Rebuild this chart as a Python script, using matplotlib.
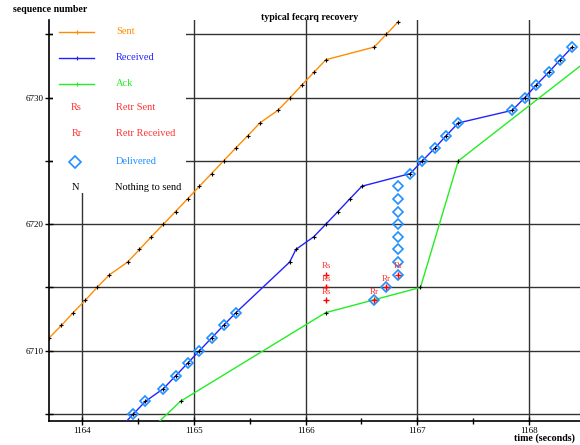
import matplotlib
matplotlib.use('Agg')
import matplotlib.pyplot as plt
from matplotlib.patches import Rectangle

plt.rcParams['font.family'] = ['Liberation Serif', 'DejaVu Serif']

# segments sent (seq 6710 .. 6736)
sent_seq = list(range(6710, 6737))
sent_t = [1163.59, 1163.700, 1163.812, 1163.916, 1164.027, 1164.131, 1164.242,
          1164.404, 1164.511, 1164.617, 1164.726, 1164.834, 1164.942, 1165.049,
          1165.157, 1165.265, 1165.372, 1165.483, 1165.590, 1165.752, 1165.862,
          1165.967, 1166.074, 1166.182, 1166.615, 1166.723, 1166.830]

# segments received (6714-6716 were lost)
recv_seq = [6704, 6705, 6706, 6707, 6708, 6709, 6710, 6711, 6712, 6713,
            6717, 6718, 6719, 6720, 6721, 6722, 6723, 6724, 6725, 6726,
            6727, 6728, 6729, 6730, 6731, 6732, 6733, 6734]
recv_t = [1164.35, 1164.457, 1164.565, 1164.726, 1164.834, 1164.942, 1165.049,
          1165.157, 1165.265, 1165.375, 1165.857, 1165.913, 1166.073, 1166.182,
          1166.290, 1166.397, 1166.505, 1166.938, 1167.046, 1167.157, 1167.261,
          1167.369, 1167.853, 1167.964, 1168.068, 1168.179, 1168.283, 1168.391]

# acks
ack_seq = [6704, 6706, 6713, 6715, 6725, 6733]
ack_t = [1164.64, 1164.879, 1166.179, 1167.03, 1167.369, 1168.534]

# retransmissions
rs_seq = [6714, 6715, 6716]
rs_t = [1166.185, 1166.185, 1166.185]
rr_seq = [6714, 6715, 6716]
rr_t = [1166.613, 1166.720, 1166.828]

# delivered to the application
dlv_seq = [6705, 6706, 6707, 6708, 6709, 6710, 6711, 6712, 6713,
           6714, 6715, 6716, 6717, 6718, 6719, 6720, 6721, 6722, 6723,
           6724, 6725, 6726, 6727, 6728, 6729, 6730, 6731, 6732, 6733, 6734]
dlv_t = [1164.457, 1164.565, 1164.726, 1164.834, 1164.942, 1165.049, 1165.157,
         1165.265, 1165.375,
         1166.613, 1166.720, 1166.828, 1166.828, 1166.828, 1166.828, 1166.828,
         1166.828, 1166.828, 1166.828,
         1166.938, 1167.046, 1167.157, 1167.261, 1167.369, 1167.853, 1167.964,
         1168.068, 1168.179, 1168.283, 1168.391]

x_ticks = [1164, 1165, 1166, 1167, 1168]
x_minor = [1164.5, 1165.5, 1166.5, 1167.5]
y_ticks = [6705, 6710, 6715, 6720, 6725, 6730, 6735]
y_labels = ['', '6710', '', '6720', '', '6730', '']

W, H = 580, 445
fig = plt.figure(figsize=(W / 100, H / 100), dpi=100)
ax = fig.add_axes([49 / W, 24 / H, 531 / W, 401 / H])

for s in ['top', 'right']:
    ax.spines[s].set_visible(False)
for s in ['left', 'bottom']:
    ax.spines[s].set_linewidth(1.2)

ax.set_xticks(x_ticks)
ax.set_xticklabels([str(v) for v in x_ticks])
ax.set_xticks(x_minor, minor=True)
ax.set_yticks(y_ticks)
ax.set_yticklabels(y_labels)
ax.tick_params(axis='both', which='major', direction='inout', length=6,
               width=1, labelsize=6.5, pad=1)
ax.tick_params(axis='x', which='minor', direction='inout', length=4, width=1)
ax.grid(True, which='major', color='0.2', lw=1.0)
ax.set_axisbelow(True)

ax.plot(sent_t, sent_seq, color='#ff8c00', lw=1, marker='+', ms=3.5,
        mec='black', mew=0.8, zorder=3)
ax.plot(recv_t, recv_seq, color='#2222ff', lw=1, marker='+', ms=3.5,
        mec='black', mew=0.8, zorder=3)
ax.plot(ack_t, ack_seq, color='#22ee22', lw=1, marker='+', ms=3.5,
        mec='black', mew=0.8, zorder=3)
ax.plot(dlv_t, dlv_seq, ls='none', marker='D', ms=5.5, mfc='none',
        mec='#1e90ff', mew=1.2, zorder=4)
ax.plot(rs_t, rs_seq, ls='none', marker='+', ms=4, mec='red', mew=1, zorder=5)
ax.plot(rr_t, rr_seq, ls='none', marker='+', ms=4, mec='red', mew=1, zorder=5)
for t, s in zip(rs_t, rs_seq):
    ax.annotate('Rs', (t, s), xytext=(0, 6), textcoords='offset points',
                ha='center', va='center', fontsize=6.5, color='#ff3333', zorder=5)
for t, s in zip(rr_t, rr_seq):
    ax.annotate('Rr', (t, s), xytext=(0, 6), textcoords='offset points',
                ha='center', va='center', fontsize=6.5, color='#ff3333', zorder=5)

# limits last, so the tick settings cannot widen them
ax.set_xlim(1163.70, 1168.46)
ax.set_ylim(6704.44, 6736.14)


def px(x, y):
    return x / W, 1 - y / H


# legend box
ft = fig.transFigure
x0, y0 = px(53, 193)
x1, y1 = px(186, 20)
fig.add_artist(Rectangle((x0, y0), x1 - x0, y1 - y0, transform=ft,
                         facecolor='white', edgecolor='none', zorder=10))
rows = [('Sent', '#ff8c00', 31.5), ('Received', '#2222ff', 57.5),
        ('Ack', '#22ee22', 83.5)]
for name, col, yy in rows:
    a = px(59, yy)
    b = px(94, yy)
    fig.add_artist(plt.Line2D([a[0], b[0]], [a[1], b[1]], transform=ft,
                              color=col, lw=1, zorder=11))
    c = px(76.5, yy)
    fig.add_artist(plt.Line2D([c[0]], [c[1]], transform=ft, marker='+',
                              ms=3, color=col, mew=0.8, zorder=11))
    fig.text(*px(116, yy), name, color=col, fontsize=7.5, va='center',
             zorder=12)
fig.text(*px(76.5, 107), 'Rs', color='#ff3333', fontsize=7.5, ha='center',
         va='center', zorder=12)
fig.text(*px(116, 107), 'Retr Sent', color='#ff3333', fontsize=7.5,
         va='center', zorder=12)
fig.text(*px(76.5, 133), 'Rr', color='#ff3333', fontsize=7.5, ha='center',
         va='center', zorder=12)
fig.text(*px(116, 133), 'Retr Received', color='#ff3333', fontsize=7.5,
         va='center', zorder=12)
d = px(75, 162)
fig.add_artist(plt.Line2D([d[0]], [d[1]], transform=ft, marker='D', ms=6,
                          mfc='none', mec='#1e90ff', mew=1.2, zorder=11))
fig.text(*px(116, 162), 'Delivered', color='#1e90ff', fontsize=7.5,
         va='center', zorder=12)
fig.text(*px(75, 188), 'N', color='black', fontsize=7.5, ha='center',
         va='center', zorder=12)
fig.text(*px(115, 188), 'Nothing to send', color='black', fontsize=7.5,
         va='center', zorder=12)

fig.text(*px(13, 10), 'sequence number', fontsize=7.1, fontweight='bold',
         va='center')
fig.text(*px(310, 17), 'typical fecarq recovery', fontsize=7.1,
         fontweight='bold', ha='center', va='center')
fig.text(*px(575, 438), 'time (seconds)', fontsize=7.2, fontweight='bold',
         ha='right', va='center')

fig.savefig('out.png', dpi=100)
